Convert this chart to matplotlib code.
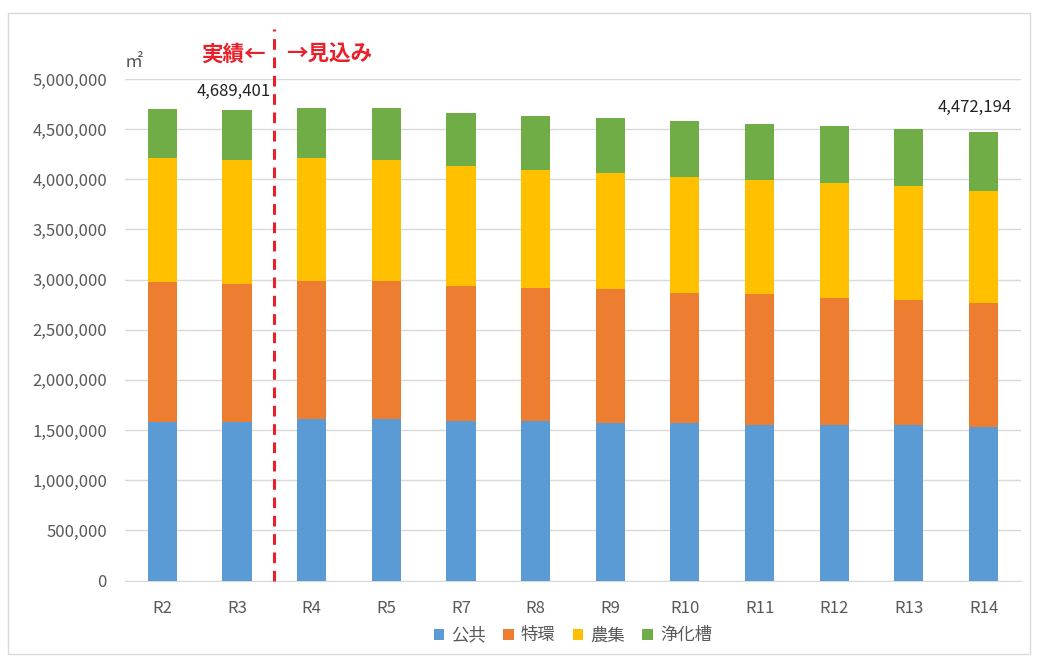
import numpy as np
import matplotlib
matplotlib.use("Agg")
import matplotlib.pyplot as plt
from matplotlib.patches import Rectangle
from matplotlib.ticker import FuncFormatter

plt.rcParams['font.family'] = ['Noto Sans CJK JP', 'DejaVu Sans']

# data (m2)
years = ['R2', 'R3', 'R4', 'R5', 'R7', 'R8', 'R9', 'R10', 'R11', 'R12', 'R13', 'R14']
koukyou = [1576000, 1576000, 1606000, 1606000, 1589000, 1589000, 1566000, 1566000, 1549000, 1549000, 1549000, 1532000]
tokkan = [1397000, 1377000, 1380000, 1380000, 1347000, 1327000, 1337000, 1300000, 1304000, 1271000, 1252000, 1239000]
noushuu = [1238000, 1242000, 1225000, 1209000, 1192000, 1179000, 1159000, 1156000, 1143000, 1142000, 1128000, 1109000]
jokaso = [485000, 494401, 502000, 518000, 535000, 535000, 551000, 558000, 551000, 568000, 568000, 592194]
names = ['公共', '特環', '農集', '浄化槽']
colors = ['#5b9bd5', '#ed7d31', '#ffc000', '#70ad47']

fig = plt.figure(figsize=(10.37, 6.57), dpi=100)
ax = fig.add_axes([0.1205, 0.1164, 0.864, 0.7634])

x = np.arange(len(years))
bottom = np.zeros(len(years))
for vals, name, c in zip([koukyou, tokkan, noushuu, jokaso], names, colors):
    ax.bar(x, vals, 0.39, bottom=bottom, color=c, label=name, zorder=3)
    bottom += np.array(vals)

ax.set_xlim(-0.5, len(years) - 0.5)
ax.set_ylim(0, 5000000)
ax.set_yticks(np.arange(0, 5000001, 500000))
ax.yaxis.set_major_formatter(FuncFormatter(lambda v, p: f'{int(v):,}'))
ax.set_xticks(x)
ax.set_xticklabels(years)
ax.tick_params(axis='both', length=0, labelsize=12, colors='#595959')
ax.tick_params(axis='x', pad=14)
ax.tick_params(axis='y', pad=13)
ax.grid(axis='y', color='#d9d9d9', linewidth=1, zorder=0)
for s in ['top', 'right', 'left']:
    ax.spines[s].set_visible(False)
ax.spines['bottom'].set_color('#d9d9d9')

# totals
ax.text(1.45, bottom[1] + 100000, f'{int(bottom[1]):,}', ha='right', va='bottom', fontsize=12, color='#222222')
ax.text(10.88, bottom[11] + 160000, f'{int(bottom[11]):,}', ha='center', va='bottom', fontsize=12, color='#222222')

# actual / forecast divider
ax.axvline(1.5, ymin=0, ymax=1.1, color='#e8202a', linestyle=(0, (3.5, 2.5)), linewidth=2.2, clip_on=False, zorder=4)
ax.text(1.38, 5250000, '実績←', color='#e8202a', fontsize=15.5, fontweight='bold', ha='right', va='center')
ax.text(1.66, 5250000, '→見込み', color='#e8202a', fontsize=15.5, fontweight='bold', ha='left', va='center')
ax.text(-0.5, 5170000, '㎡', color='#595959', fontsize=13, ha='left', va='center')

ax.legend(loc='upper center', bbox_to_anchor=(0.5, -0.06), ncol=4, frameon=False, fontsize=12.5,
          handlelength=0.6, handleheight=0.6, handletextpad=0.4, columnspacing=1.0, labelcolor='#595959')

fig.patches.append(Rectangle((0.008, 0.005), 0.985, 0.975, transform=fig.transFigure, fill=False,
                             edgecolor='#d9d9d9', linewidth=1))

fig.savefig('out.png', dpi=100)
